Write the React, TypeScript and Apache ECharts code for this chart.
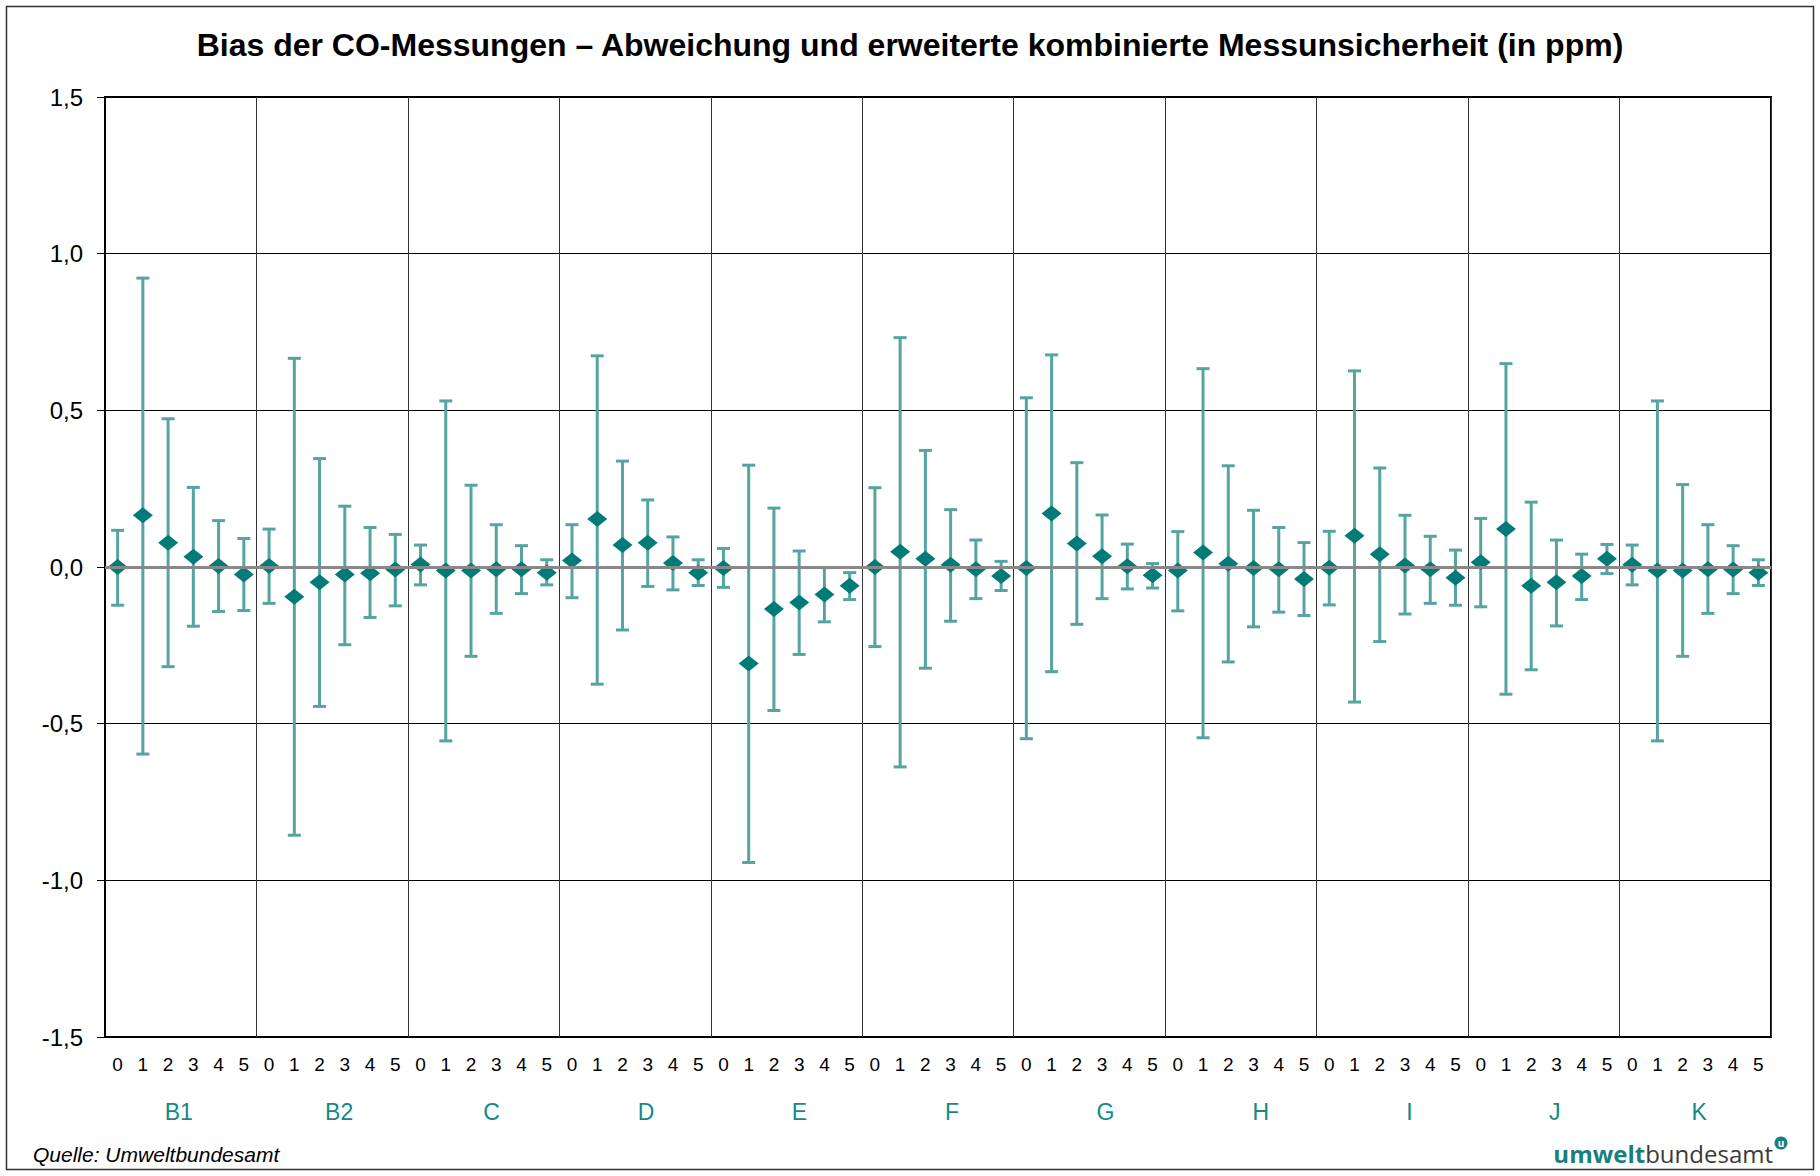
import React, { useEffect, useRef } from "react";
import * as echarts from "echarts";

const groups = ["B1", "B2", "C", "D", "E", "F", "G", "H", "I", "J", "K"];
const subLabels = ["0", "1", "2", "3", "4", "5"];

const biasB1 = [0.0, 0.165, 0.077, 0.033, 0.003, -0.024];
const biasB2 = [0.003, -0.095, -0.049, -0.024, -0.02, -0.008];
const biasC = [0.008, -0.011, -0.011, -0.007, -0.007, -0.018];
const biasD = [0.021, 0.153, 0.07, 0.077, 0.013, -0.018];
const biasE = [-0.003, -0.308, -0.134, -0.113, -0.088, -0.06];
const biasF = [0.0, 0.049, 0.026, 0.007, -0.007, -0.029];
const biasG = [-0.003, 0.171, 0.075, 0.034, 0.002, -0.026];
const biasH = [-0.011, 0.046, 0.01, -0.003, -0.007, -0.038];
const biasI = [-0.002, 0.1, 0.041, 0.005, -0.007, -0.034];
const biasJ = [0.015, 0.121, -0.06, -0.049, -0.029, 0.026];
const biasK = [0.007, -0.011, -0.011, -0.007, -0.008, -0.018];

const upperB1 = [0.117, 0.922, 0.473, 0.254, 0.148, 0.091];
const upperB2 = [0.121, 0.666, 0.346, 0.194, 0.126, 0.104];
const upperC = [0.07, 0.53, 0.261, 0.135, 0.068, 0.023];
const upperD = [0.135, 0.674, 0.338, 0.214, 0.096, 0.023];
const upperE = [0.059, 0.325, 0.188, 0.051, -0.002, -0.018];
const upperF = [0.253, 0.732, 0.372, 0.183, 0.086, 0.018];
const upperG = [0.54, 0.677, 0.333, 0.166, 0.073, 0.011];
const upperH = [0.113, 0.633, 0.323, 0.181, 0.126, 0.078];
const upperI = [0.114, 0.626, 0.316, 0.165, 0.098, 0.054];
const upperJ = [0.155, 0.649, 0.207, 0.086, 0.041, 0.072];
const upperK = [0.07, 0.53, 0.263, 0.135, 0.068, 0.023];

const lowerB1 = [-0.122, -0.597, -0.318, -0.189, -0.142, -0.139];
const lowerB2 = [-0.116, -0.856, -0.445, -0.248, -0.161, -0.124];
const lowerC = [-0.057, -0.555, -0.285, -0.148, -0.085, -0.057];
const lowerD = [-0.098, -0.374, -0.201, -0.062, -0.073, -0.059];
const lowerE = [-0.065, -0.943, -0.458, -0.279, -0.175, -0.104];
const lowerF = [-0.254, -0.638, -0.323, -0.173, -0.101, -0.075];
const lowerG = [-0.548, -0.334, -0.183, -0.101, -0.07, -0.067];
const lowerH = [-0.14, -0.545, -0.303, -0.191, -0.144, -0.155];
const lowerI = [-0.121, -0.431, -0.238, -0.15, -0.116, -0.122];
const lowerJ = [-0.127, -0.406, -0.328, -0.188, -0.104, -0.021];
const lowerK = [-0.057, -0.555, -0.285, -0.148, -0.085, -0.059];

const yTicks = [-1.5, -1.0, -0.5, 0.0, 0.5, 1.0, 1.5];

const biasAll = [biasB1, biasB2, biasC, biasD, biasE, biasF, biasG, biasH, biasI, biasJ, biasK];
const upperAll = [upperB1, upperB2, upperC, upperD, upperE, upperF, upperG, upperH, upperI, upperJ, upperK];
const lowerAll = [lowerB1, lowerB2, lowerC, lowerD, lowerE, lowerF, lowerG, lowerH, lowerI, lowerJ, lowerK];

// small horizontal nudges of the group labels (as in the original layout)
const groupLabelShift = [-2, 7, 8, 11, 13, 14, 16, 20, 17, 11, 4];

const FONT = "'Liberation Sans', Arial, sans-serif";
const TEAL_DARK = "#007b77";
const TEAL_BAR = "#55a4a2";
const TEAL_TEXT = "#138a84";

export default function App() {
  const ref = useRef<HTMLDivElement>(null);

  useEffect(() => {
    if (!ref.current) return;
    const chart = echarts.init(ref.current, undefined, { renderer: "svg" });

    const categories: string[] = [];
    const scatterData: number[][] = [];
    const errData: number[][] = [];
    groups.forEach((g, gi) => {
      subLabels.forEach((s, si) => {
        const idx = categories.length;
        categories.push(s);
        scatterData.push([idx, biasAll[gi][si]]);
        errData.push([idx, lowerAll[gi][si], upperAll[gi][si]]);
      });
    });

    const rich: Record<string, any> = {};
    groupLabelShift.forEach((d, i) => {
      rich["g" + i] = {
        fontSize: 23,
        fontFamily: FONT,
        color: TEAL_TEXT,
        padding: d >= 0 ? [0, 0, 0, 2 * d] : [0, -2 * d, 0, 0],
      };
    });

    const option: any = {
      animation: false,
      backgroundColor: "#ffffff",
      title: {
        text: "Bias der CO-Messungen – Abweichung und erweiterte kombinierte Messunsicherheit (in ppm)",
        left: "center",
        top: 24,
        textStyle: { fontFamily: FONT, fontSize: 32, fontWeight: "bold", color: "#000" },
      },
      grid: {
        left: 105,
        top: 97,
        width: 1666,
        height: 940,
        show: true,
        borderColor: "#000",
        borderWidth: 2,
        backgroundColor: "#fff",
      },
      xAxis: [
        {
          type: "category",
          data: categories,
          boundaryGap: true,
          axisLine: { show: false, onZero: false },
          axisTick: { show: false },
          splitLine: { show: false },
          axisLabel: { interval: 0, fontFamily: FONT, fontSize: 19, color: "#000", margin: 18 },
        },
        {
          type: "value",
          min: 0,
          max: categories.length,
          interval: subLabels.length,
          position: "bottom",
          axisLine: { show: false },
          axisTick: { show: false },
          axisLabel: { show: false },
          splitLine: { show: true, lineStyle: { color: "#333", width: 1 } },
        },
        {
          type: "category",
          data: groups,
          position: "bottom",
          axisLine: { show: false },
          axisTick: { show: false },
          splitLine: { show: false },
          axisLabel: {
            interval: 0,
            margin: 63,
            formatter: (v: string, i: number) => `{g${i}|${v}}`,
            rich,
          },
        },
      ],
      yAxis: {
        type: "value",
        min: -1.5,
        max: 1.5,
        interval: 0.5,
        axisLine: { show: true, onZero: false, lineStyle: { color: "#000", width: 2 } },
        axisTick: { show: true, inside: false, length: 8, lineStyle: { color: "#000", width: 1 } },
        splitLine: { show: true, lineStyle: { color: "#000", width: 1 } },
        axisLabel: {
          fontFamily: FONT,
          fontSize: 24,
          color: "#000",
          margin: 22,
          formatter: (v: number) => {
            const t = yTicks.find((k) => Math.abs(k - v) < 1e-9);
            const val = t === undefined ? v : t;
            return val.toFixed(1).replace(".", ",");
          },
        },
      },
      series: [
        {
          type: "custom",
          xAxisIndex: 0,
          yAxisIndex: 0,
          z: 2,
          data: errData,
          encode: { x: 0, y: [1, 2] },
          renderItem: (params: any, api: any) => {
            const x = api.value(0);
            const lo = api.coord([x, api.value(1)]);
            const hi = api.coord([x, api.value(2)]);
            const half = 6.5;
            const style = { stroke: TEAL_BAR, lineWidth: 3, fill: "none" };
            return {
              type: "group",
              children: [
                { type: "line", shape: { x1: lo[0], y1: lo[1], x2: hi[0], y2: hi[1] }, style },
                { type: "line", shape: { x1: hi[0] - half, y1: hi[1], x2: hi[0] + half, y2: hi[1] }, style },
                { type: "line", shape: { x1: lo[0] - half, y1: lo[1], x2: lo[0] + half, y2: lo[1] }, style },
              ],
            };
          },
          markLine: {
            silent: true,
            symbol: "none",
            label: { show: false },
            lineStyle: { color: "#888888", width: 3, type: "solid" },
            data: [{ yAxis: 0 }],
          },
        },
        {
          type: "scatter",
          xAxisIndex: 0,
          yAxisIndex: 0,
          z: 3,
          symbol: "diamond",
          symbolSize: [20, 16],
          itemStyle: { color: TEAL_DARK, opacity: 1 },
          data: scatterData,
        },
      ],
      graphic: [
        {
          type: "rect",
          z: -10,
          shape: { x: 6.5, y: 6.5, width: 1807, height: 1163 },
          style: { fill: "none", stroke: "#333", lineWidth: 1.5 },
        },
        {
          type: "text",
          left: 33,
          top: 1144,
          style: {
            text: "Quelle: Umweltbundesamt",
            fontFamily: FONT,
            fontStyle: "italic",
            fontSize: 21,
            fill: "#000",
          },
        },
        {
          type: "text",
          x: 1773,
          y: 1153,
          style: {
            text: "{a|umwelt}{b|bundesamt}",
            align: "right",
            verticalAlign: "middle",
            rich: {
              a: { fontFamily: "'Open Sans', sans-serif", fontWeight: "bold", fontSize: 24, fill: "#1a7f7b" },
              b: { fontFamily: "'Open Sans', sans-serif", fontWeight: "normal", fontSize: 24, fill: "#3a3a3a" },
            },
          },
        },
        {
          type: "circle",
          shape: { cx: 1781, cy: 1143, r: 6.5 },
          style: { fill: "#1a7f7b" },
        },
        {
          type: "text",
          x: 1781,
          y: 1143,
          style: {
            text: "u",
            align: "center",
            verticalAlign: "middle",
            fontFamily: "'Open Sans', sans-serif",
            fontWeight: "bold",
            fontSize: 10,
            fill: "#fff",
          },
        },
      ],
    };

    chart.setOption(option);
    return () => chart.dispose();
  }, []);

  return (
    <div
      ref={ref}
      style={{ position: "absolute", left: 0, top: 0, width: 1820, height: 1176, background: "#fff" }}
    />
  );
}
